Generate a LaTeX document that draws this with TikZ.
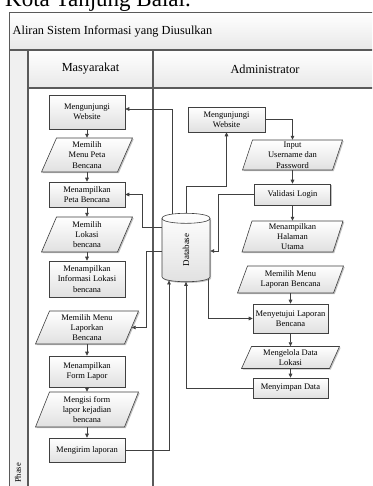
\documentclass[tikz,border=0pt]{standalone}
\usepackage{fontspec}
\setmainfont{Liberation Serif}
\usetikzlibrary{arrows.meta,shadows}
\definecolor{lncol}{HTML}{404040}
\definecolor{frcol}{HTML}{5A5A5A}
\tikzset{
  txt/.style={font=\fontsize{8.5}{10.3}\selectfont, align=center, inner sep=0pt},
  rbox/.style={txt, draw=lncol, line width=0.6pt, top color=white, bottom color=black!12,
    drop shadow={shadow xshift=1.2pt, shadow yshift=-1.2pt, fill=black!40, opacity=0.6}},
  pshape/.style={draw=lncol, line width=0.6pt, top color=white, bottom color=black!12},
  conn/.style={draw=lncol, line width=0.7pt, -{Triangle[length=4pt,width=3.6pt]}},
  lanel/.style={draw=frcol, line width=1.1pt},
  hdrfont/.style={font=\fontsize{12.3}{14}\selectfont}
}
\newcommand\rectbox[6]{%
  \node[rbox, minimum width=#4pt, minimum height=#5pt] (#1) at (#2,#3) {#6};}
\newcommand\parabox[7]{%
  \fill[black!24] ({#2-#4/2+#6+1.2},{#3-#5/2+1.2}) -- ({#2+#4/2+#6+1.2},{#3-#5/2+1.2})
     -- ({#2+#4/2-#6+1.2},{#3+#5/2+1.2}) -- ({#2-#4/2-#6+1.2},{#3+#5/2+1.2}) -- cycle;
  \shade[pshape] ({#2-#4/2+#6},{#3-#5/2}) -- ({#2+#4/2+#6},{#3-#5/2})
     -- ({#2+#4/2-#6},{#3+#5/2}) -- ({#2-#4/2-#6},{#3+#5/2}) -- cycle;
  \node[txt, minimum width=#4pt, minimum height=#5pt] (#1) at (#2,#3) {#7};}
\begin{document}
\begin{tikzpicture}[x=1pt,y=-1pt]
\useasboundingbox (0,0) rectangle (372,486);
\clip (0,0) rectangle (372,486);
\fill[white] (0,0) rectangle (372,486);

% title (cut off at top)
\node[anchor=base west, inner sep=0pt, font=\fontsize{23}{26}\selectfont] (title) at (5,7) {Kota Tanjung Balai.};

% swimlane frame
\shade[top color=white, bottom color=black!9] (9,12) rectangle (377,50);
\shade[top color=white, bottom color=black!9] (28,50) rectangle (377,88);
\fill[black!6] (9,50) rectangle (28,500);
\draw[draw=frcol, line width=0.8pt] (9,500) -- (9,12) -- (377,12) -- (377,500);
\draw[lanel] (9,50) -- (377,50);
\draw[lanel] (28,50) -- (28,500);
\draw[lanel] (28,88) -- (377,88);
\draw[lanel] (153,50) -- (153,500);

\node[hdrfont, anchor=west, inner sep=0pt] (hdr) at (12.5,31.5) {Aliran Sistem Informasi yang Diusulkan};
\node[hdrfont] (masy) at (90.5,69) {Masyarakat};
\node[hdrfont] (adm) at (265,69) {Administrator};
\node[rotate=90, font=\fontsize{8.5}{10}\selectfont] (phase) at (18,473) {Phase};

% Masyarakat lane
\rectbox{L1}{87}{112}{76}{34}{Mengunjungi\\Website}
\parabox{L2}{87}{155}{76}{34}{7.5}{Memilih\\Menu Peta\\Bencana}
\rectbox{L3}{87}{194.5}{76}{25}{Menampilkan\\Peta Bencana}
\parabox{L4}{87}{234.5}{76}{35}{7.5}{Memilih\\Lokasi\\bencana}
\rectbox{L5}{87}{279}{76}{36}{Menampilkan\\Informasi Lokasi\\bencana}
\parabox{L6}{87}{327.5}{89}{33}{7}{Memilih Menu\\Laporkan\\Bencana}
\rectbox{L7}{87}{371.5}{76}{31}{Menampilkan\\Form Lapor}
\parabox{L8}{87}{409.5}{89}{35}{7}{Mengisi form\\lapor kejadian\\bencana}
\rectbox{L9}{87}{450}{76}{24}{Mengirim laporan}

% Administrator lane
\rectbox{A1}{226.5}{119.5}{77}{25}{Mengunjungi\\Website}
\parabox{A2}{292.5}{155}{90}{30}{5}{Input\\Username dan\\Password}
\rectbox{A3}{292.5}{194.5}{76}{21}{Validasi Login}
\parabox{A4}{292.5}{236.5}{91}{31}{5}{Menampilkan\\Halaman\\Utama}
\parabox{A5}{290.5}{279.5}{96}{27}{5}{Memilih Menu\\Laporan Bencana}
\rectbox{A6}{290.5}{318.5}{75}{29}{Menyetujui Laporan\\Bencana}
\parabox{A7}{290.5}{357.5}{88}{22}{5}{Mengelola Data\\Lokasi}
\rectbox{A8}{290.5}{388}{75}{20}{Menyimpan Data}

% Database cylinder
\fill[black!24] (163.2,219.5) -- (163.2,277.9) .. controls (163.2,284.6) and (211.2,284.6) .. (211.2,277.9)
   -- (211.2,219.5) -- cycle;
\shade[pshape] (162,218.3) -- (162,276.7) .. controls (162,283.4) and (210,283.4) .. (210,276.7)
   -- (210,218.3) .. controls (210,211.6) and (162,211.6) .. (162,218.3) -- cycle;
\draw[draw=lncol, line width=0.6pt] (162,218.3) .. controls (162,225) and (210,225) .. (210,218.3);
\node[inner sep=0pt, minimum width=48pt, minimum height=68.4pt] (db) at (186,247.5) {};
\node[rotate=90, txt, font=\fontsize{9}{11}\selectfont] (dbl) at (186,250) {Database};

% sequential arrows
\foreach \a/\b in {L1/L2,L2/L3,L3/L4,L4/L5,L6/L7,L7/L8,L8/L9,A2/A3,A3/A4,A5/A6,A6/A7,A7/A8}
  \draw[conn] (\a.south) -- (\b.north);

% database connectors
\draw[conn] ([xshift=-14pt,yshift=-0.9pt]db.north) |- ([yshift=3pt]L1.east);
\draw[conn] ([yshift=20.5pt]db.west) -- ++(-19,0) |- (L3.east);
\draw[conn] ([yshift=-3.5pt]db.west) -- ++(-15,0) |- (L6.east);
\draw[conn] (L9.east) -| ([xshift=-17pt,yshift=1.5pt]db.south);
\draw[conn] (A8.west) -| (db.south);
\draw[conn] (A3.west) -- ++(-35.5,0) |- ([yshift=-3.5pt]db.east);
\draw[conn] ([xshift=22pt,yshift=3pt]db.south) |- (A6.west);
\draw[conn] (db.north) -- ++(0,-26.3) -| (A1.south);
\draw[conn] (A1.east) -| (A2.north);
\end{tikzpicture}
\end{document}
